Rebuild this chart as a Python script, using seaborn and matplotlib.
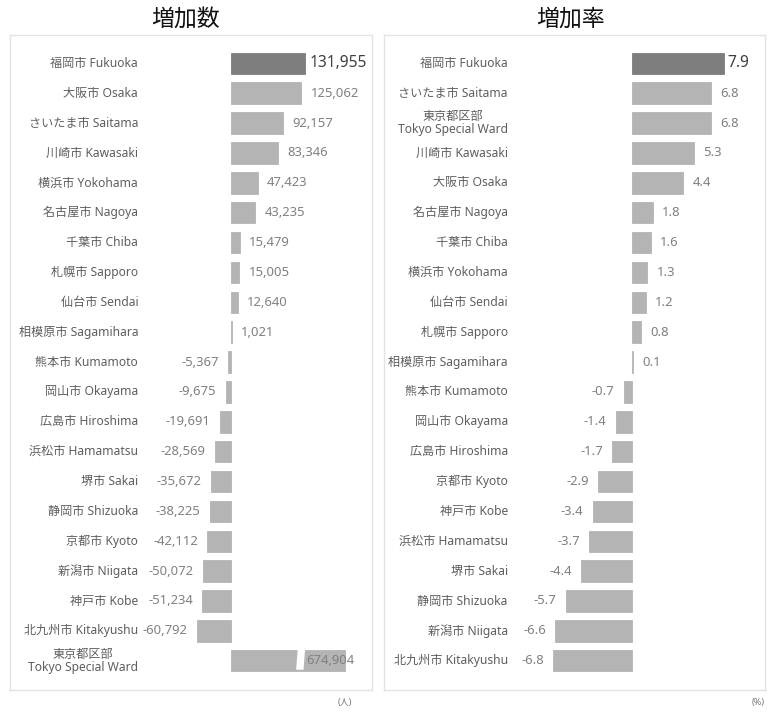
import matplotlib
matplotlib.use("Agg")
import matplotlib.pyplot as plt
import matplotlib.transforms as mtransforms
import pandas as pd
import seaborn as sns

# 増加数 (people)
count_labels = [
    "福岡市 Fukuoka", "大阪市 Osaka", "さいたま市 Saitama", "川崎市 Kawasaki",
    "横浜市 Yokohama", "名古屋市 Nagoya", "千葉市 Chiba", "札幌市 Sapporo",
    "仙台市 Sendai", "相模原市 Sagamihara", "熊本市 Kumamoto", "岡山市 Okayama",
    "広島市 Hiroshima", "浜松市 Hamamatsu", "堺市 Sakai", "静岡市 Shizuoka",
    "京都市 Kyoto", "新潟市 Niigata", "神戸市 Kobe", "北九州市 Kitakyushu",
    "東京都区部\nTokyo Special Ward",
]
count_values = [
    131955, 125062, 92157, 83346, 47423, 43235, 15479, 15005, 12640, 1021,
    -5367, -9675, -19691, -28569, -35672, -38225, -42112, -50072, -51234,
    -60792, 674904,
]

# 増加率 (%)
rate_labels = [
    "福岡市 Fukuoka", "さいたま市 Saitama", "東京都区部\nTokyo Special Ward",
    "川崎市 Kawasaki", "大阪市 Osaka", "名古屋市 Nagoya", "千葉市 Chiba",
    "横浜市 Yokohama", "仙台市 Sendai", "札幌市 Sapporo", "相模原市 Sagamihara",
    "熊本市 Kumamoto", "岡山市 Okayama", "広島市 Hiroshima", "京都市 Kyoto",
    "神戸市 Kobe", "浜松市 Hamamatsu", "堺市 Sakai", "静岡市 Shizuoka",
    "新潟市 Niigata", "北九州市 Kitakyushu",
]
rate_values = [
    7.9, 6.8, 6.8, 5.3, 4.4, 1.8, 1.6, 1.3, 1.2, 0.8, 0.1,
    -0.7, -1.4, -1.7, -2.9, -3.4, -3.7, -4.4, -5.7, -6.6, -6.8,
]

highlight = "福岡市 Fukuoka"
cap_value = 203000  # Tokyo count bar drawn with an axis break

sns.set_theme(style="white")
plt.rcParams["font.family"] = ["Noto Sans", "Noto Sans CJK JP", "DejaVu Sans"]

DARK = "#7d7d7d"
LIGHT = "#b4b4b4"
TXT = "#5e5e5e"
VAL = "#808080"


def draw_panel(ax, labels, values, xlim, label_x, fmt, pad, cap=None):
    shown = [min(v, cap) if cap else v for v in values]
    df = pd.DataFrame({"name": labels, "value": shown})
    df["hl"] = ["hi" if n == highlight else "lo" for n in labels]
    sns.barplot(data=df, x="value", y="name", hue="hl", orient="h",
                palette={"hi": DARK, "lo": LIGHT}, width=0.72,
                dodge=False, legend=False, ax=ax, saturation=1)
    for p in ax.patches:
        p.set_edgecolor(p.get_facecolor())
        p.set_linewidth(0.6)
    ax.set_xlim(*xlim)
    ax.set_ylim(len(labels) - 0.02, -0.95)
    ax.set_xticks([])
    ax.set_yticks([])
    ax.set_xlabel("")
    ax.set_ylabel("")
    for s in ax.spines.values():
        s.set_color("#e3e3e3")
        s.set_linewidth(1)

    trans = mtransforms.blended_transform_factory(ax.transAxes, ax.transData)
    for i, (name, v, sv) in enumerate(zip(labels, values, shown)):
        ax.text(label_x, i, name, transform=trans, ha="right", va="center",
                multialignment="center", fontsize=8.7, color=TXT,
                linespacing=1.05)
        txt = fmt(v)
        big = name == highlight
        kw = dict(va="center", color="#3f3f3f" if big else VAL,
                  fontsize=11.2 if big else 9.4,
                  fontweight="semibold" if big else "normal")
        if cap and v > cap:
            ax.text(sv * 0.665, i, txt, ha="left", **kw)
        elif v >= 0:
            ax.text(sv + (pad * 0.45 if big else pad), i, txt, ha="left", **kw)
        else:
            ax.text(sv - pad, i, txt, ha="right", **kw)

    if cap:
        for i, v in enumerate(values):
            if v > cap:
                x0, x1 = cap * 0.58, cap * 0.645
                sl = cap * 0.008
                ax.fill([x0 + sl, x1 + sl, x1 - sl, x0 - sl],
                        [i - 0.5, i - 0.5, i + 0.3, i + 0.3],
                        color="white", zorder=3, lw=0)


fig = plt.figure(figsize=(7.69, 7.13), dpi=100)
W, H = 769, 713
ax1 = fig.add_axes([10 / W, (H - 690) / H, 362 / W, 655 / H])
ax2 = fig.add_axes([384 / W, (H - 690) / H, 381 / W, 655 / H])

draw_panel(ax1, count_labels, count_values, (-394100, 251400), 0.354,
           lambda v: f"{v:,}", 16500, cap=cap_value)
draw_panel(ax2, rate_labels, rate_values, (-21.38, 11.46), 0.325,
           lambda v: f"{v:.1f}", 0.8)

fig.text(185 / W, 1 - 20 / H, "増加数", ha="center", va="center", fontsize=16.5, color="#111111")
fig.text(570 / W, 1 - 20 / H, "増加率", ha="center", va="center", fontsize=16.5, color="#111111")
fig.text(345 / W, 1 - 703 / H, "(人)", ha="center", va="center", fontsize=6.5, color="#777777")
fig.text(752 / W, 1 - 703 / H, "(%)", ha="left", va="center", fontsize=6.5, color="#777777")

fig.savefig("out.png", dpi=100, facecolor="white")
